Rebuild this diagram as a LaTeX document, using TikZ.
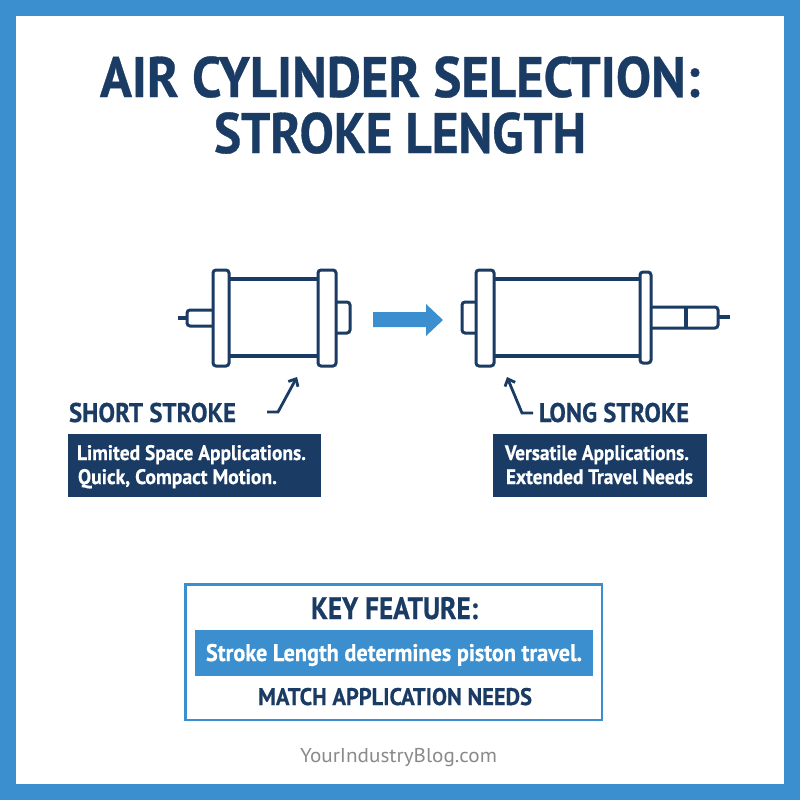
\documentclass[tikz,border=0pt]{standalone}
\usepackage{fontspec}
\usepackage{graphicx}
\setmainfont{PT Sans}[BoldFeatures={FakeBold=0.6}]
\definecolor{navy}{HTML}{1A3B63}
\definecolor{skyb}{HTML}{3B8FCE}
\definecolor{greyt}{HTML}{8A8A8A}
\usetikzlibrary{arrows.meta}
\newcommand\fitw[3]{\resizebox{#1pt}{\height}{\fontsize{#2}{#2}\selectfont #3}}
\tikzset{
  part/.style={draw=navy,line width=3pt,rounded corners=3pt,fill=white},
  pline/.style={draw=navy,line width=3.4pt},
  callout/.style={draw=navy,line width=2.8pt,-{Straight Barb[length=6pt,width=11pt]}},
  txt/.style={inner sep=0pt,outer sep=0pt,anchor=base,font=\bfseries},
  navytxt/.style={txt,text=navy},
  whitetxt/.style={txt,text=white}
}
\begin{document}
\begin{tikzpicture}[x=1pt,y=-1pt]
\useasboundingbox (0,0) rectangle (800,800);
\fill[skyb] (0,0) rectangle (800,800);
\fill[white] (16,16) rectangle (784,784);
% title
\node[navytxt] (t1) at (400,97) {\fitw{600}{57}{AIR CYLINDER SELECTION:}};
\node[navytxt] (t2) at (400,153) {\fitw{372}{57}{STROKE LENGTH}};
% left cylinder
\draw[pline] (178,318) -- (188,318);
\draw[part] (213,310) -- (187,310) -- (187,326) -- (213,326);
\draw[part] (336,302) -- (350,302) -- (350,333) -- (336,333);
\draw[pline] (229,279) -- (318,279) (229,356) -- (318,356);
\draw[part] (213,270) rectangle (229,366);
\draw[part] (318,270) rectangle (336,366);
% main arrow
\fill[skyb] (373,312) -- (426,312) -- (426,304) -- (443,320) -- (426,336) -- (426,327) -- (373,327) -- cycle;
% right cylinder
\draw[part] (476,302) -- (462,302) -- (462,333) -- (476,333);
\draw[pline] (494,279) -- (640,279) (494,356) -- (640,356);
\draw[part] (476,270) rectangle (494,366);
\draw[part] (651,307) -- (718,307) -- (718,328) -- (651,328);
\draw[part] (640,272) rectangle (651,363);
\draw[pline] (686,307) -- (686,328);
\draw[pline] (718,317) -- (730,317);
% labels
\node[navytxt] (ss) at (152.5,422) {\fitw{167}{27}{SHORT STROKE}};
\node[navytxt] (ls) at (614,422) {\fitw{150}{27}{LONG STROKE}};
\coordinate (ca) at (297,377);
\coordinate (cb) at (507,377);
\draw[callout] (267,412) -- (278,412) -- (ca);
\draw[callout] (533,413) -- (522,413) -- (cb);
% dark boxes
\fill[navy] (68,434) rectangle (321,497);
\fill[navy] (493,434) rectangle (707,497);
\node[whitetxt] at (191.5,460) {\fitw{229}{21}{Limited Space Applications.}};
\node[whitetxt] at (177.5,484) {\fitw{199}{21}{Quick, Compact Motion.}};
\node[whitetxt] at (597,460) {\fitw{184}{21}{Versatile Applications.}};
\node[whitetxt] at (599.5,484) {\fitw{187}{21}{Extended Travel Needs}};
% key box
\draw[draw=skyb,line width=2.4pt] (185.5,584.5) rectangle (602,720);
\fill[skyb] (194.5,630) rectangle (593,676);
\node[navytxt] at (394.5,619) {\fitw{167}{31}{KEY FEATURE:}};
\node[whitetxt] at (394,661) {\fitw{376}{24}{Stroke Length determines piston travel.}};
\node[navytxt] at (395,705) {\fitw{274}{24}{MATCH APPLICATION NEEDS}};
\node[txt,font=\normalfont,text=greyt] at (398.5,762) {\fitw{197}{20}{YourIndustryBlog.com}};
\end{tikzpicture}
\end{document}
